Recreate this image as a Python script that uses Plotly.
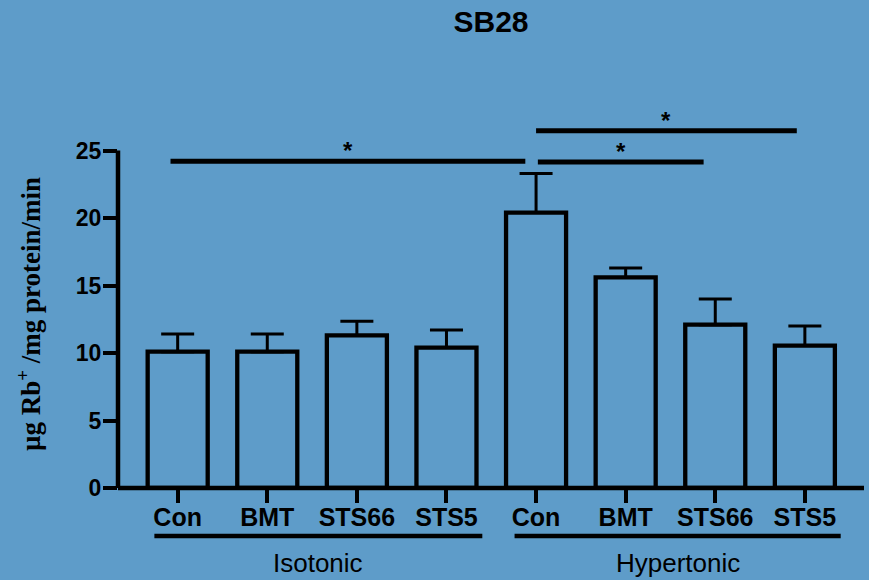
import plotly.graph_objects as go

# ---- data ----
tick_labels = ["Con", "BMT", "STS66", "STS5", "Con", "BMT", "STS66", "STS5"]
positions = [0, 1, 2, 3, 4, 5, 6, 7]
means = [10.1, 10.1, 11.3, 10.4, 20.4, 15.6, 12.1, 10.55]
upper = [11.4, 11.4, 12.35, 11.7, 23.3, 16.3, 14.0, 12.0]
groups = ["Isotonic", "Hypertonic"]
group_spans = [(-0.26, 3.40), (3.76, 7.40)]
# significance brackets: (x start, x end, height)
sig_lines = [(-0.08, 3.88, 24.2), (4.02, 5.87, 24.15), (4.0, 6.91, 26.47)]
sig_text = ["*", "*", "*"]
y_ticks = [0, 5, 10, 15, 20, 25]

errs = [u - m for u, m in zip(upper, means)]
BG = "#5e9cc9"

fig = go.Figure()
fig.add_trace(go.Bar(
    x=positions, y=means, width=0.67,
    marker=dict(color="rgba(0,0,0,0)", line=dict(color="black", width=4.3)),
    error_y=dict(type="data", symmetric=False, array=errs,
                 arrayminus=[0] * len(errs), color="black", thickness=3, width=16.5),
    showlegend=False, hoverinfo="skip",
))

shapes = []
# axis lines
shapes.append(dict(type="line", xref="paper", yref="paper", x0=0, x1=1, y0=0, y1=0,
                   line=dict(color="black", width=4.5)))
shapes.append(dict(type="line", xref="paper", yref="y", x0=0, x1=0, y0=0, y1=max(y_ticks),
                   line=dict(color="black", width=4.5)))
annotations = []
for (x0, x1, h), t in zip(sig_lines, sig_text):
    shapes.append(dict(type="line", xref="x", yref="y", x0=x0, x1=x1, y0=h, y1=h,
                       line=dict(color="black", width=5)))
    annotations.append(dict(x=(x0 + x1) / 2, y=h, xref="x", yref="y", text=t,
                            showarrow=False, yanchor="bottom", yshift=-5,
                            font=dict(family="Arial, Liberation Sans", size=24,
                                      color="black", weight="bold")))
for g, (x0, x1) in zip(groups, group_spans):
    shapes.append(dict(type="line", xref="x", yref="paper", x0=x0, x1=x1,
                       y0=-0.127, y1=-0.127, line=dict(color="black", width=4.5)))
    annotations.append(dict(x=(x0 + x1) / 2, y=-0.198, xref="x", yref="paper", text=g,
                            showarrow=False, yanchor="middle", xanchor="center",
                            font=dict(family="Arial, Liberation Sans", size=26, color="black")))

annotations.append(dict(x=-0.1185, y=0.459, xref="paper", yref="paper",
                        text="µg Rb<sup>+</sup> /mg protein/min", textangle=-90,
                        showarrow=False, xanchor="center", yanchor="middle",
                        font=dict(family="Times New Roman, Liberation Serif, serif",
                                  size=27, color="black", weight="bold")))

fig.update_layout(
    width=869, height=580,
    margin=dict(l=118, r=5, t=110, b=92),
    paper_bgcolor=BG, plot_bgcolor=BG,
    title=dict(text="SB28", x=0.5, xref="paper", y=1 - 21 / 580, yref="container",
               xanchor="center", yanchor="middle",
               font=dict(family="Arial, Liberation Sans", size=30, color="black", weight="bold")),
    shapes=shapes, annotations=annotations,
    xaxis=dict(range=[-0.666, 7.66], tickvals=positions, ticktext=tick_labels,
               showline=False, showgrid=False, zeroline=False,
               ticks="outside", ticklen=13.5, tickwidth=4, tickcolor="black",
               ticklabelstandoff=-7,
               tickfont=dict(family="Arial, Liberation Sans", size=25, color="black", weight="bold")),
    yaxis=dict(range=[0, 28], tickvals=y_ticks, showline=False, showgrid=False, zeroline=False,
               ticks="outside", ticklen=14, tickwidth=4, tickcolor="black",
               ticklabelstandoff=-3,
               tickfont=dict(family="Arial, Liberation Sans", size=23, color="black", weight="bold")),
    font=dict(family="Arial, Liberation Sans", color="black"),
)

fig.write_html("out.html", config={"displayModeBar": False},
               post_script="document.body.style.margin='0';document.body.style.overflow='hidden';")
